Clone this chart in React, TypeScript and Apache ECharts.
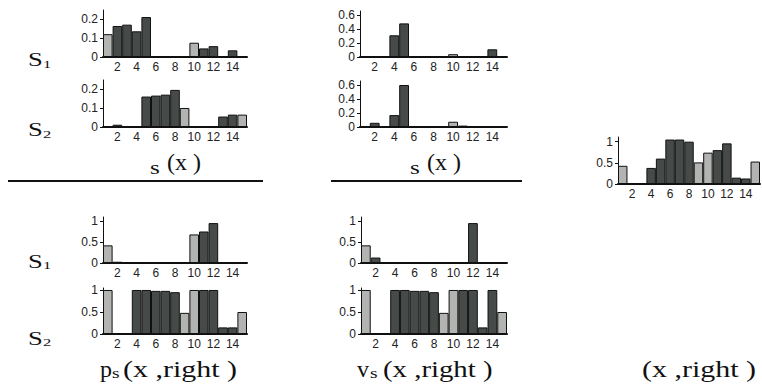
import React, { useEffect, useRef } from "react";
import * as echarts from "echarts";

// ---- data ----
const categories = ["1", "2", "3", "4", "5", "6", "7", "8", "9", "10", "11", "12", "13", "14", "15"];
const lightCategories = [1, 9, 10, 15];
const yTicksSmall = [0, 0.1, 0.2];
const yTicksMid = [0, 0.2, 0.4, 0.6];
const yTicksUnit = [0, 0.5, 1];

const topLeftS1 = [0.12, 0.163, 0.17, 0.135, 0.21, 0.001, 0, 0.001, 0, 0.075, 0.045, 0.057, 0, 0.035, 0];
const topLeftS2 = [0, 0.012, 0, 0.005, 0.16, 0.165, 0.17, 0.195, 0.1, 0.002, 0, 0, 0.055, 0.065, 0.065];
const topMidS1 = [0, 0.01, 0, 0.31, 0.48, 0, 0, 0, 0, 0.04, 0.01, 0, 0, 0.11, 0];
const topMidS2 = [0, 0.06, 0, 0.17, 0.6, 0, 0, 0, 0, 0.075, 0.02, 0, 0, 0.01, 0];
const pS1 = [0.42, 0.03, 0.01, 0, 0, 0, 0, 0, 0, 0.68, 0.75, 0.95, 0, 0, 0];
const pS2 = [1, 0, 0, 1, 1, 0.98, 0.98, 0.95, 0.48, 1, 1, 1, 0.15, 0.15, 0.5];
const vS1 = [0.42, 0.13, 0.01, 0, 0, 0, 0, 0, 0, 0.01, 0, 0.95, 0, 0, 0];
const vS2 = [1, 0, 0, 1, 1, 0.98, 0.98, 0.95, 0.48, 1, 1, 1, 0.15, 1, 0.5];
const rightValues = [0.43, 0.02, 0.01, 0.38, 0.6, 1.05, 1.05, 1.0, 0.51, 0.74, 0.8, 0.96, 0.15, 0.13, 0.53];

// ---- layout ----
const LIGHT = "#b2b4b1";
const DARK = "#464b49";
const INK = "#111111";

const panels = [
  { values: topLeftS1, ticks: yTicksSmall, left: 103, top: 10, width: 144, height: 47, max: 0.247 },
  { values: topLeftS2, ticks: yTicksSmall, left: 103, top: 80, width: 144, height: 47, max: 0.247 },
  { values: topMidS1, ticks: yTicksMid, left: 360, top: 11, width: 147, height: 46, max: 0.657 },
  { values: topMidS2, ticks: yTicksMid, left: 360, top: 81, width: 147, height: 46, max: 0.657 },
  { values: pS1, ticks: yTicksUnit, left: 103, top: 217, width: 144, height: 46, max: 1.095 },
  { values: pS2, ticks: yTicksUnit, left: 103, top: 288, width: 144, height: 46, max: 1.045 },
  { values: vS1, ticks: yTicksUnit, left: 361, top: 217, width: 146, height: 46, max: 1.095 },
  { values: vS2, ticks: yTicksUnit, left: 361, top: 288, width: 146, height: 46, max: 1.045 },
  { values: rightValues, ticks: yTicksUnit, left: 618, top: 137, width: 142, height: 47, max: 1.11 },
];

function txt(text: string, x: number, y: number, size: number, scaleX = 1) {
  return {
    type: "text",
    x,
    y,
    scaleX,
    silent: true,
    style: {
      text,
      x: 0,
      y: 0,
      fontSize: size,
      fontFamily: "Liberation Serif",
      fill: INK,
      align: "left",
      verticalAlign: "middle",
    },
  };
}

function hline(x1: number, x2: number, y: number) {
  return {
    type: "line",
    silent: true,
    shape: { x1, y1: y, x2, y2: y },
    style: { stroke: INK, lineWidth: 2 },
  };
}

function buildOption() {
  const grid = panels.map((p) => ({ left: p.left, top: p.top, width: p.width, height: p.height, containLabel: false }));
  const xAxis = panels.map((_, i) => ({
    type: "category",
    gridIndex: i,
    data: categories,
    boundaryGap: true,
    axisLine: { show: true, lineStyle: { color: INK, width: 2 } },
    axisTick: { show: false },
    axisLabel: {
      interval: (idx: number) => idx % 2 === 1,
      fontSize: 12,
      fontFamily: "Liberation Sans",
      color: "#222",
      margin: 4,
    },
  }));
  const yAxis = panels.map((p, i) => {
    const interval = p.ticks[1] - p.ticks[0];
    return {
      type: "value",
      gridIndex: i,
      min: p.ticks[0],
      max: p.max,
      interval,
      splitLine: { show: false },
      axisLine: { show: true, onZero: false, lineStyle: { color: INK, width: 1 } },
      axisTick: { show: true, length: 3, lineStyle: { color: INK } },
      axisLabel: {
        showMaxLabel: false,
        fontSize: 12,
        fontFamily: "Liberation Sans",
        color: "#222",
        margin: 5,
        formatter: (v: number) => (p.ticks.some((t) => Math.abs(t - v) < 1e-9) ? String(+v.toFixed(2)) : ""),
      },
    };
  });
  const series = panels.map((p, i) => ({
    type: "bar",
    xAxisIndex: i,
    yAxisIndex: i,
    barCategoryGap: "0%",
    data: p.values.map((v, k) => ({
      value: v,
      itemStyle: {
        color: lightCategories.includes(k + 1) ? LIGHT : DARK,
        borderColor: INK,
        borderWidth: 1,
      },
    })),
  }));

  const graphic = [
    hline(8, 263, 181),
    hline(331, 522, 181),
    // row labels
    txt("S", 28, 59, 19, 1.4),
    txt("1", 43, 64, 11, 1.5),
    txt("S", 28, 129, 19, 1.4),
    txt("2", 43, 134, 11, 1.5),
    txt("S", 28, 261, 19, 1.4),
    txt("1", 43, 265, 11, 1.5),
    txt("S", 28, 338, 19, 1.4),
    txt("2", 43, 342, 11, 1.5),
    // captions
    txt("s", 150, 168, 18, 1.4),
    txt("(x )", 167, 162, 24),
    txt("s", 410, 168, 18, 1.4),
    txt("(x )", 427, 162, 24),
    txt("p", 100, 369, 24),
    txt("s", 112, 373, 15, 1.3),
    txt("(x ,right )", 123, 369, 24, 1.25),
    txt("v", 357, 369, 24),
    txt("s", 370, 373, 15, 1.3),
    txt("(x ,right )", 383, 369, 24, 1.2),
    txt("(x ,right )", 642, 369, 24, 1.25),
  ];

  return {
    animation: false,
    backgroundColor: "#ffffff",
    grid,
    xAxis,
    yAxis,
    series,
    graphic,
  };
}

export default function App() {
  const ref = useRef<HTMLDivElement>(null);
  useEffect(() => {
    if (!ref.current) return;
    const chart = echarts.init(ref.current, undefined, { renderer: "svg" });
    chart.setOption(buildOption() as any);
    return () => chart.dispose();
  }, []);
  return (
    <div
      ref={ref}
      style={{ position: "absolute", left: 0, top: 0, width: 762, height: 384 }}
    />
  );
}
